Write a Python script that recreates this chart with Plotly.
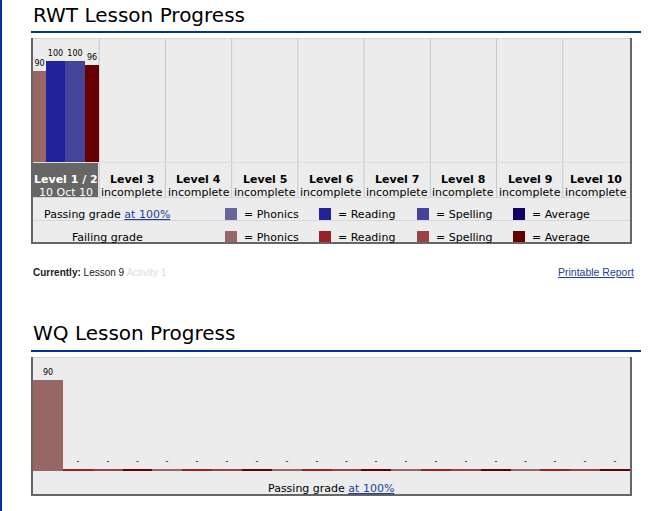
import plotly.graph_objects as go

W, H = 658, 511

# ---------------- data ----------------
levels = ["Level 1 / 2", "Level 3", "Level 4", "Level 5", "Level 6",
          "Level 7", "Level 8", "Level 9", "Level 10"]
level_status = ["10 Oct 10", "incomplete", "incomplete", "incomplete", "incomplete",
                "incomplete", "incomplete", "incomplete", "incomplete"]
subjects = ["Phonics", "Reading", "Spelling", "Average"]

rwt_phonics = [90, None, None, None, None, None, None, None, None]
rwt_reading = [100, None, None, None, None, None, None, None, None]
rwt_spelling = [100, None, None, None, None, None, None, None, None]
rwt_average = [96, None, None, None, None, None, None, None, None]

wq_lessons = ["Lesson 1", "Lesson 2", "Lesson 3", "Lesson 4", "Lesson 5"]
wq_phonics = [90, 0, 0, 0, 0]
wq_reading = [0, 0, 0, 0, 0]
wq_spelling = [0, 0, 0, 0, 0]
wq_average = [0, 0, 0, 0, 0]

passing_grade = 100
pass_colors = ["#666699", "#222299", "#444499", "#110066"]
fail_colors = ["#996666", "#992222", "#994444", "#660000"]

current_lesson = "Lesson 9"
current_activity = "Activity 1"

# ---------------- helpers ----------------
FONT = "DejaVu Sans"
BLUE = "#003399"
BOX_BG = "#ECECEC"
DARK = "#666666"
LIGHT = "#D6D6D6"


def px(x):
    return x / W


def py(y):
    return 1 - y / H


shapes = []
annotations = []


def rect(x0, y0, x1, y1, color, layer="below"):
    shapes.append(dict(type="rect", xref="paper", yref="paper",
                       x0=px(x0), x1=px(x1), y0=py(y1), y1=py(y0),
                       fillcolor=color, line=dict(width=0), layer=layer))


def hline(x0, x1, y, color, layer="below"):
    shapes.append(dict(type="line", xref="paper", yref="paper",
                       x0=px(x0), x1=px(x1), y0=py(y), y1=py(y),
                       line=dict(color=color, width=1), layer=layer))


def text(x, y, s, size=11, color="black", xanchor="left", family=FONT):
    annotations.append(dict(xref="paper", yref="paper", x=px(x), y=py(y),
                            text=s, showarrow=False, xanchor=xanchor, yanchor="middle",
                            font=dict(family=family, size=size, color=color)))


def colour(v, i):
    if v is None:
        return fail_colors[i]
    return pass_colors[i] if v >= passing_grade else fail_colors[i]


fig = go.Figure()

# ---------------- RWT bars ----------------
rwt_series = [rwt_phonics, rwt_reading, rwt_spelling, rwt_average]
rwt_bar_widths = [0.2, 0.29, 0.3, 0.2]
off = -0.5
for i, (name, vals) in enumerate(zip(subjects, rwt_series)):
    fig.add_trace(go.Bar(
        x=levels, y=vals, name=name, xaxis="x", yaxis="y",
        width=rwt_bar_widths[i], offset=off,
        marker=dict(color=[colour(v, i) for v in vals], line=dict(width=0)),
        text=["" if v is None else str(v) for v in vals],
        textposition="outside", constraintext="none", cliponaxis=False,
        textfont=dict(family=FONT, size=8, color="black"),
        hoverinfo="skip", showlegend=False))
    off += rwt_bar_widths[i]

# ---------------- WQ bars ----------------
wq_series = [wq_phonics, wq_reading, wq_spelling, wq_average]
for i, (name, vals) in enumerate(zip(subjects, wq_series)):
    fig.add_trace(go.Bar(
        x=wq_lessons, y=[max(v, 1) for v in vals], name=name, xaxis="x2", yaxis="y2",
        marker=dict(color=[colour(v, i) for v in vals], line=dict(width=0)),
        text=[str(v) if v > 0 else "-" for v in vals],
        textposition="outside", constraintext="none", cliponaxis=False,
        textfont=dict(family=FONT, size=8, color="black"),
        hoverinfo="skip", showlegend=False))

# ---------------- page decoration ----------------
rect(0, 0, 2, H, BLUE)

# RWT section
text(31, 15, "RWT Lesson Progress", size=20)
rect(31, 31, 641, 33, BLUE)
rect(31, 38, 632, 244, BOX_BG)
hline(31, 632, 38.5, LIGHT)
rect(33, 163, 98, 197, DARK)
for i in range(len(levels) - 1):
    shapes.append(dict(type="line", xref="x", yref="paper", x0=i + 0.5, x1=i + 0.5,
                       y0=py(197), y1=py(39), line=dict(color="#C8C8C8", width=1),
                       layer="below"))
hline(33, 630, 162.5, "#DEDEDE")
hline(33, 630, 197.5, LIGHT)
hline(33, 630, 220.5, LIGHT)

for i, (lv, st) in enumerate(zip(levels, level_status)):
    c = "white" if i == 0 else "black"
    annotations.append(dict(xref="x", yref="paper", x=lv, y=py(179.5),
                            text="<b>%s</b>" % lv, showarrow=False,
                            xanchor="center", yanchor="middle",
                            font=dict(family=FONT, size=11, color=c)))
    annotations.append(dict(xref="x", yref="paper", x=lv, y=py(192),
                            text=st, showarrow=False,
                            xanchor="center", yanchor="middle",
                            font=dict(family=FONT, size=11, color=c)))

# legend grid
text(107, 214, 'Passing grade <span style="color:#1F3F99"><u>at 100%</u></span>',
     xanchor="center")
text(107, 237.5, "Failing grade", xanchor="center")
sq_x = [225, 319, 417, 513]
for i, name in enumerate(subjects):
    rect(sq_x[i], 208, sq_x[i] + 12, 220, pass_colors[i], layer="above")
    rect(sq_x[i], 231, sq_x[i] + 12, 243, fail_colors[i], layer="above")
    text(sq_x[i] + 17, 214, "= " + name)
    text(sq_x[i] + 17, 237.5, "= " + name)

# borders of RWT box
rect(31, 38, 33, 244, DARK, layer="above")
rect(630, 38, 632, 244, DARK, layer="above")
rect(31, 242, 632, 244, DARK, layer="above")

# status line
text(31, 272, "<b>Currently:</b> %s <span style=\"color:#DDDDDD\">%s</span>"
     % (current_lesson, current_activity), size=10, color="#222222",
     family="Liberation Sans")
text(636, 272, '<u>Printable Report</u>', size=10.5, color="#1F3F99",
     xanchor="right", family="Liberation Sans")

# WQ section
text(31, 333, "WQ Lesson Progress", size=20)
rect(31, 350, 641, 352, BLUE)
rect(31, 357, 632, 496, BOX_BG)
hline(31, 632, 357.5, LIGHT)
text(331, 488, 'Passing grade <span style="color:#1F3F99"><u>at 100%</u></span>',
     xanchor="center")
rect(31, 357, 33, 496, DARK, layer="above")
rect(630, 357, 632, 496, DARK, layer="above")
rect(31, 494, 632, 496, DARK, layer="above")

# ---------------- layout ----------------
axis_off = dict(showgrid=False, zeroline=False, showticklabels=False, showline=False,
                ticks="", fixedrange=True)
fig.update_layout(
    width=W, height=H,
    margin=dict(l=0, r=0, t=0, b=0),
    paper_bgcolor="white", plot_bgcolor="rgba(0,0,0,0)",
    barmode="group", bargap=0, bargroupgap=0,
    showlegend=False,
    xaxis=dict(domain=[px(33), px(629)], range=[-0.5, len(levels) - 0.5],
               type="category", anchor="y", **axis_off),
    yaxis=dict(domain=[py(162), py(39)], range=[0, 123 / 1.01], anchor="x", **axis_off),
    xaxis2=dict(domain=[px(33), px(630)], range=[-0.5, len(wq_lessons) - 0.5],
                type="category", anchor="y2", **axis_off),
    yaxis2=dict(domain=[py(471), py(358)], range=[0, 113 / 1.011], anchor="x2", **axis_off),
    shapes=shapes,
    annotations=annotations,
)

fig.write_html("out.html")
